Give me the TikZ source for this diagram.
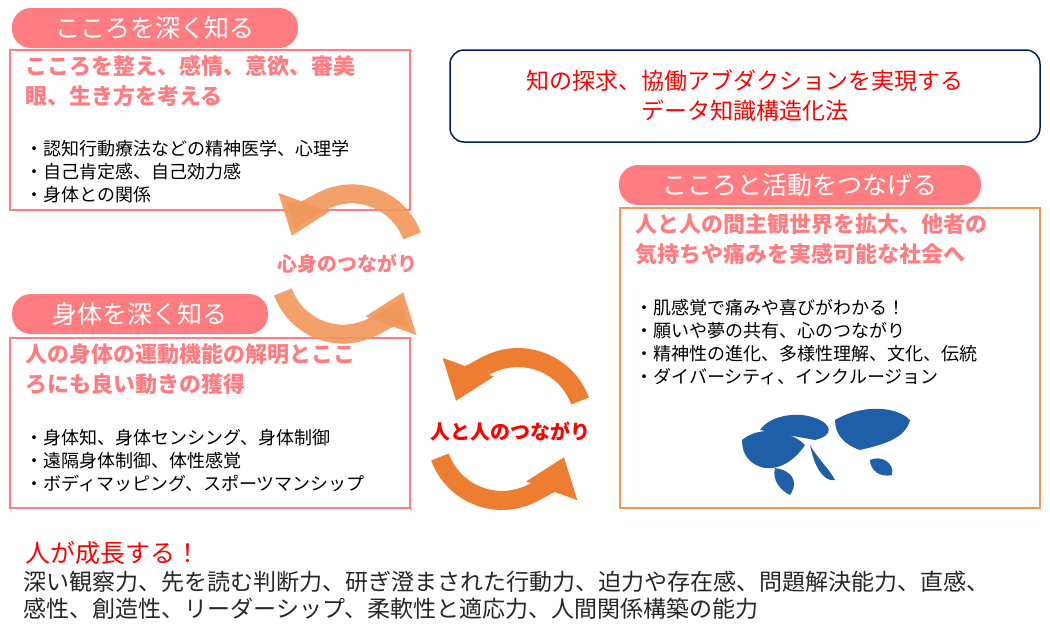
\documentclass[tikz,border=0pt]{standalone}
\usepackage{fontspec}
\setmainfont{Noto Sans CJK JP}
\usetikzlibrary{arrows.meta}
\definecolor{salmon}{HTML}{FF7C80}
\definecolor{orng}{HTML}{ED7D31}
\definecolor{navy}{HTML}{002060}
\definecolor{mapblue}{HTML}{1F5FA8}
\tikzset{
  pill/.style={fill=salmon,text=white,rounded corners=19pt,minimum height=40pt,font=\fontsize{25}{28}\selectfont},
  panel/.style={draw=salmon,line width=1.5pt},
  head/.style={text=salmon,font=\bfseries\fontsize{22}{30}\selectfont,anchor=north west,align=left},
  bullets/.style={font=\fontsize{18}{23}\selectfont,anchor=north west,align=left},
  cycle/.style={line width=19pt,-{Triangle[width=52pt,length=36pt]}},
}
\begin{document}
\begin{tikzpicture}[x=1pt,y=-1pt]
\useasboundingbox (0,0) rectangle (1050,630);
% left top
\draw[panel] (10,50) rectangle (410,210);
\node[pill,minimum width=286pt] (p1) at (155,28) {こころを深く知る};
\node[head] (h1) at (22,52) {こころを整え、感情、意欲、審美\\眼、生き方を考える};
\node[bullets] (b1) at (22,137) {・認知行動療法などの精神医学、心理学\\・自己肯定感、自己効力感\\・身体との関係};
% title
\draw[navy,line width=1.5pt,rounded corners=14pt] (450,50) rectangle (1040,142);
\node[text=red,font=\fontsize{23}{30}\selectfont,align=center] (ttl) at (745,96) {知の探求、協働アブダクションを実現する\\データ知識構造化法};
% right
\draw[orng!80,line width=1.5pt] (620,208) rectangle (1040,508);
\node[pill,minimum width=362pt] (p3) at (800,185) {こころと活動をつなげる};
\node[head] (h3) at (632,210) {人と人の間主観世界を拡大、他者の\\気持ちや痛みを実感可能な社会へ};
\node[bullets] (b3) at (632,296) {・肌感覚で痛みや喜びがわかる！\\・願いや夢の共有、心のつながり\\・精神性の進化、多様性理解、文化、伝統\\・ダイバーシティ、インクルージョン};
% left bottom
\draw[panel] (10,338) rectangle (410,508);
\node[pill,minimum width=256pt] (p2) at (140,314) {身体を深く知る};
\node[head] (h2) at (22,340) {人の身体の運動機能の解明とここ\\ろにも良い動きの獲得};
\node[bullets] (b2) at (22,426) {・身体知、身体センシング、身体制御\\・遠隔身体制御、体性感覚\\・ボディマッピング、スポーツマンシップ};
% cycles
\draw[cycle,orng!80,opacity=.9] (412,236) arc[start angle=-20,end angle=-160,radius=64] ;
\draw[cycle,orng!80,opacity=.9] (283,292) arc[start angle=160,end angle=20,radius=64];
\node[text=salmon,font=\bfseries\fontsize{20}{22}\selectfont] (c1) at (347,264) {心身のつながり};
\draw[cycle,orng] (580,401) arc[start angle=-20,end angle=-160,radius=66];
\draw[cycle,orng] (440,457) arc[start angle=160,end angle=20,radius=66];
\node[text=red,font=\bfseries\fontsize{20}{22}\selectfont] (c2) at (510,432) {人と人のつながり};
% map
\begin{scope}[fill=mapblue]
\fill (742,440) .. controls (760,425) and (790,430) .. (805,445) .. controls (795,460) and (780,470) .. (765,468) .. controls (750,465) and (742,455) .. (742,440);
\fill (775,468) .. controls (790,470) and (800,480) .. (790,495) .. controls (780,490) and (772,480) .. (775,468);
\fill (760,430) .. controls (770,415) and (800,410) .. (820,420) .. controls (830,425) and (835,435) .. (815,440) -- cycle;
\fill (810,445) .. controls (815,455) and (830,470) .. (835,480) .. controls (825,482) and (815,470) .. (810,445);
\fill (835,420) .. controls (860,405) and (895,405) .. (910,420) .. controls (905,440) and (880,445) .. (860,450) .. controls (845,445) and (835,435) .. (835,420);
\fill (870,460) .. controls (880,455) and (895,462) .. (892,475) .. controls (880,478) and (870,470) .. (870,460);
\end{scope}
% bottom
\node[text=red,anchor=west,font=\fontsize{25}{28}\selectfont] (grow) at (22,553) {人が成長する！};
\node[anchor=north west,align=left,text=black!85,font=\fontsize{23}{27}\selectfont] (tr) at (20,567) {深い観察力、先を読む判断力、研ぎ澄まされた行動力、迫力や存在感、問題解決能力、直感、\\感性、創造性、リーダーシップ、柔軟性と適応力、人間関係構築の能力};
\end{tikzpicture}
\end{document}
